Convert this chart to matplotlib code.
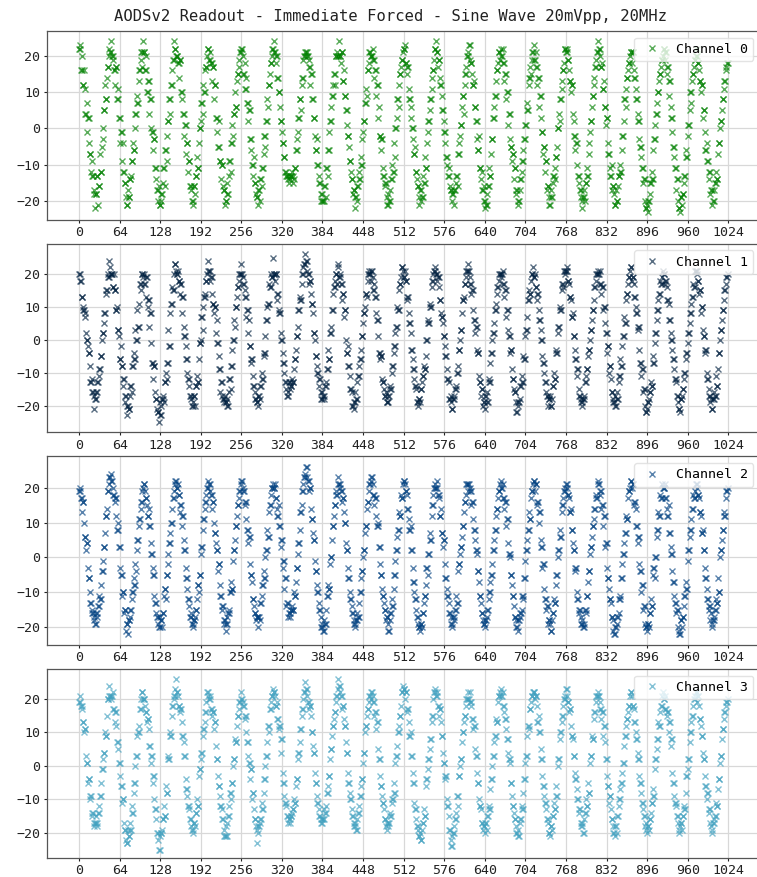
"""AODSv2 readout: 20 MHz sine wave captured on four channels (immediate forced trigger)."""

import matplotlib

matplotlib.use("Agg")
import matplotlib.pyplot as plt
import numpy as np

plt.rcParams["font.family"] = ["DejaVu Sans Mono", "DejaVu Sans"]

TITLE = "AODSv2 Readout - Immediate Forced - Sine Wave 20mVpp, 20MHz"
CHANNEL_LABELS = ["Channel 0", "Channel 1", "Channel 2", "Channel 3"]
CHANNEL_COLORS = ["#008000", "#002040", "#004080", "#40a0bf"]
X_TICKS = [0, 64, 128, 192, 256, 320, 384, 448, 512, 576, 640, 704, 768, 832, 896, 960, 1024]
Y_TICKS = [-20, -10, 0, 10, 20]
Y_LIMITS = [(-25.2, 26.9), (-28.2, 29.2), (-25.1, 28.9), (-27.5, 28.9)]

# readout samples, one line per period of the input sine
channel_0 = [
    22, 22, 23, 16, 16, 20, 12, 12, 16, 11, 4, 4, 7, -1, 3, 3, -4, -7, -7, -12, -9, -13, -13, -17, -18, -22, -18, -18, -13, -13, -21, -16, -16, -7, -12, -12, -5, -3, 0, 5, 5, 12, 8, 8, 14, 17, 17, 20, 22, 21, 21,
    24, 20, 20, 19, 16, 16, 12, 17, 17, 8, 8, 11, 3, 3, -4, -1, -1, -9, -4, -12, -12, -15, -15, -19, -21, -21, -17, -19, -19, -14, -14, -13, -9, -9, -4, -6, -6, 0, 4, 4, 9, 7, 7, 13, 16, 16, 19, 21, 21, 17, 24,
    21, 21, 16, 16, 20, 10, 10, 13, 13, 4, 8, 8, 0, -1, -1, -6, -3, -3, -11, -11, -14, -17, -17, -20, -16, -21, -21, -20, -18, -18, -15, -11, -11, -16, -6, -6, -2, -9, 2, 2, 8, 8, 4, 12, 12, 16, 19, 19, 24, 22, 22, 20,
    20, 20, 18, 18, 14, 19, 19, 10, 10, 8, 4, 4, -2, 1, 1, -7, -4, -4, -12, -9, -9, -16, -16, -17, -20, -20, -21, -16, -16, -18, -13, -13, -8, -11, -11, -4, 0, 0, 2, 7, 7, 4, 12, 10, 10, 16, 17, 17, 20, 22, 22,
    19, 19, 21, 18, 18, 13, 17, 17, 8, 12, 12, 3, 3, -1, -5, -5, 2, -9, -9, -14, -10, -10, -16, -17, -17, -21, -20, -20, -15, -18, -18, -13, -9, -9, -12, -4, -4, 1, -2, 4, 4, 10, 6, 6, 13, 15, 15, 19, 17, 21, 21,
    22, 22, 20, 15, 15, 18, 11, 11, 14, 7, 7, 2, 5, 5, -3, -3, -6, -10, -10, -13, -8, -15, -15, -18, -19, -19, -21, -17, -17, -20, -14, -14, -16, -11, -11, -7, -2, -2, -5, 2, 2, 8, 6, 12, 12, 15, 18, 18, 20, 22, 22,
    24, 21, 21, 18, 20, 20, 14, 14, 10, 10, 6, 2, 2, -1, -4, -4, -8, -8, -12, -12, -13, -13, -14, -13, -15, -13, -14, -13, -13, -12, -15, -13, -14, -11, -11, -6, -6, -3, -1, 3, 3, 8, 8, 5, 12, 14, 14, 19, 20, 20, 21,
    21, 21, 20, 20, 19, 17, 17, 12, 15, 15, 8, 8, 3, 3, -2, -6, -6, -3, -10, -10, -13, -15, -15, -18, -20, -20, -18, -20, -20, -16, -16, -19, -11, -11, -13, -6, -6, -1, 2, 2, 6, 9, 9, 12, 15, 15, 12, 20, 20, 21, 20, 20,
    24, 20, 20, 18, 21, 21, 13, 13, 16, 9, 9, 5, 5, 1, -2, -2, -5, -9, -9, -12, -14, -14, -18, -17, -17, -22, -19, -19, -20, -16, -16, -12, -14, -14, -8, -10, -10, -3, -1, 2, 2, 7, 7, 11, 9, 16, 16, 18, 21, 21, 20,
    20, 20, 22, 19, 19, 14, 16, 16, 9, 12, 12, 3, 6, -2, -2, -6, -3, -3, -11, -13, -13, -16, -15, -15, -19, -21, -21, -18, -20, -20, -17, -14, -14, -10, -12, -12, -4, -8, 0, 0, 3, 8, 8, 6, 12, 15, 15, 17, 19, 19, 21,
    22, 22, 23, 18, 18, 15, 17, 17, 11, 8, 8, 3, 6, 0, 0, -3, -7, -7, -5, -12, -12, -14, -16, -16, -19, -21, -17, -17, -20, -19, -19, -13, -15, -15, -8, -11, -11, -4, -1, 2, 2, 5, 8, 8, 11, 14, 16, 16, 19, 22, 22,
    24, 21, 21, 17, 19, 19, 14, 12, 12, 9, 5, 5, 2, -1, -1, -4, -8, -8, -10, -13, -13, -11, -16, -17, -17, -20, -18, -18, -21, -17, -17, -15, -13, -13, -16, -7, -7, -4, -2, 1, 1, 6, 9, 9, 4, 12, 15, 15, 17, 20, 20,
    21, 23, 23, 19, 18, 18, 15, 12, 12, 13, 6, 6, 2, 2, -3, -6, -6, -2, -11, -11, -14, -12, -17, -17, -16, -20, -20, -22, -21, -21, -18, -16, -16, -11, -13, -13, -7, -3, -3, 3, 3, 6, 9, 9, 13, 16, 16, 18, 21, 21, 19, 22,
    20, 20, 22, 18, 18, 13, 15, 15, 8, 10, 10, 1, 4, 4, -3, -5, -5, -9, -7, -7, -14, -11, -11, -18, -17, -17, -21, -20, -20, -17, -14, -14, -12, -9, -9, -6, -3, -3, 1, 1, 7, 5, 5, 12, 14, 14, 17, 15, 19, 21, 21,
    23, 19, 19, 21, 17, 17, 12, 14, 14, 6, 9, 9, 3, -1, -1, -7, -5, -5, -12, -9, -9, -17, -16, -16, -19, -21, -21, -17, -19, -19, -15, -13, -13, -11, -14, -8, -8, -5, 0, 0, 4, 2, 8, 8, 13, 11, 16, 16, 18, 22, 22,
    21, 21, 22, 19, 19, 16, 13, 13, 10, 12, 12, 4, 2, -2, -2, -6, -4, -4, -10, -13, -13, -15, -17, -17, -19, -20, -22, -19, -19, -17, -20, -15, -15, -11, -13, -13, -4, -7, -1, 2, 2, 6, 9, 9, 12, 14, 17, 17, 19, 21, 21,
    24, 22, 22, 20, 17, 17, 18, 11, 11, 13, 6, 6, 1, 3, 3, -4, -7, -7, -11, -13, -13, -10, -17, -16, -16, -18, -21, -21, -17, -20, -20, -16, -13, -13, -10, -12, -12, -6, -2, -2, 2, 8, 8, 6, 11, 14, 14, 16, 18, 18, 20,
    21, 21, 18, 21, 21, 16, 14, 14, 11, 8, 8, 4, 2, 2, -3, -5, -5, -8, -11, -11, -15, -14, -14, -20, -22, -22, -21, -23, -20, -20, -18, -15, -15, -12, -14, -14, -6, -3, -3, 1, 4, 4, 7, 10, 10, 13, 15, 15, 17, 19, 19, 20,
    22, 22, 19, 21, 21, 15, 17, 17, 9, 13, 13, 6, 3, 3, -1, -5, -5, -8, -11, -11, -17, -14, -14, -20, -22, -22, -23, -19, -19, -21, -18, -18, -15, -13, -13, -6, -8, -8, -2, 1, 1, 5, 10, 10, 7, 13, 15, 15, 17, 19, 19,
    20, 20, 22, 18, 18, 16, 13, 13, 10, 12, 12, 3, 5, 5, -1, -6, -6, -4, -9, -9, -14, -12, -12, -18, -17, -17, -21, -20, -20, -17, -15, -15, -12, -14, -14, -7, -4, -4, 0, 2, 2, 5, 8, 8, 11, 13, 13, 17, 16, 18, 18,
]

channel_1 = [
    20, 20, 18, 18, 13, 13, 10, 9, 9, 8, 7, 2, 0, 0, -2, -4, -4, -8, -13, -13, -12, -16, -16, -17, -21, -18, -18, -16, -16, -13, -13, -11, -9, -9, -5, -5, 0, 2, 2, 5, 8, 8, 14, 15, 15, 20, 19, 19, 24, 22, 20,
    20, 20, 16, 16, 20, 15, 15, 9, 9, 10, 3, 3, 1, -6, -6, -2, -8, -8, -14, -12, -12, -19, -17, -17, -23, -20, -20, -21, -21, -17, -14, -14, -16, -8, -8, -4, -6, -6, 3, 0, 0, 9, 4, 4, 11, 17, 17, 15, 20, 20, 19,
    20, 17, 17, 13, 19, 19, 10, 12, 12, 4, 8, 8, -1, -7, -7, -12, -8, -8, -16, -18, -18, -21, -22, -22, -25, -19, -23, -23, -20, -18, -18, -17, -19, -13, -13, -10, -12, -7, -7, 3, -2, -2, 8, 11, 11, 16, 15, 15, 20, 23, 23, 21,
    20, 20, 21, 18, 18, 14, 17, 17, 8, 13, 13, 4, 1, 1, -2, -6, -6, -10, -12, -12, -14, -17, -17, -18, -20, -20, -19, -17, -17, -20, -14, -14, -11, -13, -13, -6, -1, -1, 0, 7, 7, 3, 10, 13, 13, 14, 18, 18, 20, 21, 24,
    21, 21, 18, 19, 19, 14, 11, 11, 8, 10, 10, 2, 6, -1, -1, -5, -9, -9, -16, -13, -13, -17, -18, -18, -19, -17, -19, -19, -18, -20, -20, -16, -12, -12, -15, -8, -8, -3, 0, 0, 6, 4, 10, 10, 13, 16, 16, 18, 20, 20, 23,
    20, 20, 19, 17, 17, 15, 13, 13, 7, 9, 9, 2, 6, -2, -2, -7, -6, -6, -11, -14, -14, -16, -18, -18, -19, -19, -20, -17, -17, -18, -14, -14, -10, -12, -12, -5, -4, -4, 1, 6, 6, 10, 11, 11, 17, 16, 16, 20, 19, 19, 25,
    20, 20, 18, 20, 20, 12, 14, 14, 9, 8, 8, 2, 0, 0, -4, -7, -7, -10, -13, -13, -15, -17, -17, -16, -13, -13, -15, -14, -14, -12, -13, -13, -9, -6, -6, -3, 1, 1, 4, 9, 9, 13, 12, 12, 17, 20, 20, 22, 23, 23, 26,
    24, 24, 21, 20, 20, 17, 18, 18, 14, 11, 11, 8, 2, 2, 0, -5, -5, -8, -10, -10, -14, -12, -12, -16, -18, -18, -16, -17, -17, -18, -14, -14, -13, -9, -9, -3, -6, -6, 2, 2, 4, 9, 9, 14, 16, 16, 18, 20, 20, 17, 22, 23,
    19, 19, 20, 17, 17, 12, 14, 14, 7, 9, 9, 0, -4, -4, -2, -8, -8, -11, -15, -15, -16, -20, -20, -21, -19, -19, -16, -18, -18, -13, -11, -11, -8, -6, -6, -3, 1, 1, 5, 8, 8, 10, 14, 14, 13, 18, 20, 20, 21, 20, 18,
    21, 21, 19, 15, 15, 17, 13, 13, 8, 6, 6, 1, -4, -4, -6, -5, -5, -12, -13, -13, -15, -17, -17, -16, -19, -19, -19, -17, -17, -14, -15, -15, -10, -8, -8, -4, -2, -2, 2, 4, 4, 10, 9, 9, 15, 17, 17, 19, 22, 22, 21,
    19, 19, 21, 18, 18, 12, 13, 13, 8, 5, 5, 2, -3, -3, -6, -9, -9, -12, -14, -14, -15, -19, -19, -20, -18, -18, -19, -15, -15, -13, -11, -11, -8, -9, -9, -5, 0, 0, 6, 5, 5, 11, 10, 10, 16, 18, 18, 20, 21, 21, 22,
    20, 20, 18, 19, 19, 16, 12, 12, 8, 7, 7, 5, 1, 1, -2, -5, -5, -9, -12, -12, -13, -18, -18, -17, -19, -21, -21, -18, -18, -17, -15, -15, -14, -10, -10, -8, -3, -3, 0, 3, 3, 8, 12, 12, 13, 17, 17, 19, 21, 21, 23,
    21, 21, 19, 17, 17, 14, 15, 15, 9, 6, 6, 2, 4, 4, -3, -4, -4, -11, -13, -13, -17, -15, -15, -20, -19, -19, -21, -17, -17, -16, -19, -19, -12, -13, -13, -7, -4, -4, 0, 2, 2, 5, 9, 9, 11, 14, 16, 16, 18, 20, 20, 19,
    20, 20, 21, 17, 17, 13, 15, 15, 7, 9, 9, 3, 1, 1, -4, -3, -3, -9, -12, -12, -15, -16, -16, -19, -22, -22, -20, -19, -19, -18, -14, -14, -11, -13, -13, -5, -6, -6, 1, 3, 3, 7, 12, 12, 15, 14, 14, 18, 20, 20, 22,
    19, 19, 20, 16, 16, 12, 14, 14, 9, 6, 6, 3, 0, 0, -5, -7, -7, -10, -13, -13, -16, -17, -17, -20, -18, -18, -17, -20, -20, -18, -14, -14, -10, -12, -12, -3, -4, -4, 2, 4, 4, 10, 9, 9, 15, 17, 17, 16, 21, 21, 20,
    21, 21, 22, 18, 18, 17, 13, 13, 12, 7, 7, 8, 1, 1, -3, -6, -6, -11, -9, -9, -15, -17, -17, -18, -19, -19, -20, -18, -18, -17, -13, -13, -11, -9, -9, -5, -3, -3, 0, 3, 3, 6, 9, 9, 12, 16, 16, 18, 20, 20, 21,
    20, 20, 21, 17, 17, 14, 16, 16, 9, 10, 10, 5, 2, 2, -4, -2, -2, -10, -8, -8, -12, -16, -16, -18, -19, -19, -17, -20, -20, -16, -18, -18, -13, -11, -11, -6, -8, -8, -2, 1, 1, 7, 5, 5, 12, 14, 14, 17, 19, 19, 21,
    22, 22, 18, 19, 19, 17, 13, 13, 10, 8, 8, 3, 4, 4, -3, -7, -7, -11, -9, -9, -16, -15, -15, -20, -22, -22, -21, -19, -19, -18, -16, -16, -13, -14, -14, -5, -7, -7, -1, 2, 2, 6, 9, 9, 12, 14, 14, 18, 17, 17, 19, 21,
    20, 20, 17, 18, 18, 16, 12, 12, 11, 6, 6, 2, 0, 0, -3, -6, -6, -9, -12, -12, -13, -17, -17, -19, -21, -21, -22, -18, -18, -17, -15, -15, -12, -10, -10, -6, -4, -4, -1, 2, 2, 5, 8, 8, 11, 13, 13, 17, 16, 16, 21,
    21, 21, 20, 18, 18, 14, 15, 15, 8, 10, 10, 3, 1, 1, -4, -3, -3, -10, -12, -12, -15, -17, -17, -19, -18, -21, -21, -18, -18, -16, -17, -17, -11, -14, -14, -9, -4, -4, 0, 3, 3, 6, 9, 9, 12, 15, 15, 17, 19, 19, 20,
]

channel_2 = [
    19, 19, 20, 17, 17, 13, 16, 16, 10, 6, 6, 2, 4, 4, -3, -6, -6, -10, -13, -13, -15, -16, -16, -18, -17, -19, -19, -16, -16, -17, -14, -14, -11, -12, -12, -8, -4, -4, -1, 3, 3, 7, 12, 12, 14, 19, 19, 21, 23, 23, 24,
    22, 22, 20, 18, 18, 16, 17, 17, 12, 8, 8, 10, 3, 3, -3, -5, -5, -11, -10, -10, -16, -15, -15, -21, -19, -19, -22, -18, -18, -17, -15, -15, -12, -10, -10, -6, -8, -8, -2, -4, 2, 5, 5, 9, 11, 11, 14, 16, 16, 19, 20,
    21, 21, 19, 17, 17, 15, 12, 12, 14, 9, 9, 4, 1, 1, -3, -5, -5, -11, -13, -13, -16, -17, -17, -19, -20, -20, -17, -18, -18, -20, -16, -16, -11, -9, -9, -12, -5, -5, -2, 1, 4, 4, 7, 10, 10, 14, 17, 17, 19, 21, 22, 22,
    20, 20, 21, 18, 18, 13, 15, 15, 9, 12, 12, 5, 2, 2, -3, -6, -6, -9, -12, -12, -14, -17, -17, -16, -19, -19, -20, -18, -18, -17, -15, -15, -12, -8, -8, -10, -5, -5, 1, 3, 3, 8, 11, 11, 14, 16, 16, 18, 20, 20, 22,
    21, 21, 19, 18, 18, 14, 16, 16, 10, 7, 7, 4, 2, 2, -4, -2, -2, -8, -11, -11, -15, -14, -14, -19, -18, -18, -21, -19, -19, -17, -16, -16, -15, -10, -10, -7, -9, -9, -1, 2, 2, 5, 9, 9, 12, 15, 15, 17, 19, 19, 21,
    22, 22, 20, 19, 19, 15, 16, 16, 11, 8, 8, 4, 6, 6, -2, -5, -5, -7, -12, -12, -14, -16, -16, -18, -17, -17, -20, -17, -17, -18, -13, -13, -11, -8, -8, -4, -6, -6, 0, 2, 2, 8, 6, 6, 13, 15, 15, 18, 20, 20, 21,
    20, 20, 21, 17, 17, 14, 12, 12, 15, 9, 9, 3, 5, 5, -3, -1, -1, -9, -6, -6, -14, -13, -13, -17, -16, -16, -17, -15, -15, -14, -15, -15, -10, -11, -11, -7, -3, -3, 1, 4, 4, 8, 13, 13, 15, 19, 19, 21, 23, 23, 24,
    26, 26, 23, 22, 22, 19, 20, 20, 14, 11, 11, 7, 5, 5, -1, -4, -4, -8, -10, -10, -13, -15, -15, -17, -20, -20, -19, -21, -21, -18, -19, -19, -15, -11, -11, -8, -9, -9, -2, 0, 0, 5, 9, 9, 12, 15, 15, 19, 18, 18, 21, 23,
    21, 21, 20, 19, 19, 16, 17, 17, 13, 10, 10, 4, 2, 2, -3, -6, -6, -10, -12, -12, -14, -16, -16, -18, -19, -19, -20, -18, -18, -16, -17, -17, -13, -10, -10, -6, -4, -4, 0, 2, 2, 7, 9, 9, 14, 16, 16, 19, 21, 21, 22,
    23, 23, 21, 18, 18, 15, 17, 17, 12, 9, 9, 10, 3, 3, -2, -5, -5, -9, -11, -11, -13, -15, -15, -18, -17, -17, -19, -21, -21, -18, -16, -16, -12, -14, -14, -9, -5, -5, -1, 2, 2, 6, 8, 8, 13, 12, 12, 18, 17, 17, 21,
    22, 22, 21, 19, 19, 18, 14, 14, 11, 8, 8, 9, 2, 2, -3, -7, -7, -10, -12, -12, -15, -17, -17, -19, -20, -20, -21, -19, -19, -20, -16, -16, -13, -11, -11, -8, -3, -3, -5, 1, 1, 7, 5, 5, 12, 15, 15, 18, 20, 20, 21,
    20, 20, 22, 18, 18, 17, 12, 12, 14, 7, 7, 3, 5, 5, -2, -6, -6, -9, -11, -11, -13, -16, -16, -17, -19, -19, -20, -17, -17, -18, -15, -15, -11, -13, -13, -4, -2, -2, 1, 3, 3, 6, 9, 9, 13, 16, 16, 18, 21, 21, 19,
    21, 21, 20, 19, 19, 15, 16, 16, 11, 8, 8, 5, 2, 2, 1, -4, -4, -7, -11, -11, -13, -16, -16, -18, -19, -19, -20, -18, -18, -17, -15, -15, -12, -10, -10, -7, -5, -5, -2, 2, 2, 5, 8, 8, 12, 14, 14, 17, 19, 19, 21, 22,
    20, 20, 21, 17, 17, 14, 16, 16, 9, 11, 11, 4, 1, 1, 0, -5, -5, -8, -11, -11, -14, -17, -17, -18, -20, -20, -21, -18, -18, -17, -16, -16, -15, -11, -11, -12, -6, -6, -1, 2, 2, 5, 8, 8, 13, 11, 11, 17, 19, 19, 21,
    22, 22, 19, 21, 21, 15, 16, 16, 10, 13, 13, 5, 3, 3, -3, -2, -2, -9, -12, -12, -15, -14, -14, -19, -18, -18, -19, -21, -21, -18, -16, -16, -12, -13, -13, -8, -5, -5, 0, 2, 2, 8, 6, 6, 13, 15, 15, 17, 19, 19, 20,
    21, 21, 20, 18, 18, 17, 13, 13, 14, 8, 8, 4, 2, 2, -4, -3, -3, -10, -12, -12, -16, -15, -15, -17, -19, -19, -18, -20, -20, -19, -15, -15, -16, -11, -11, -7, -4, -4, 1, 3, 3, 6, 9, 9, 11, 14, 14, 18, 17, 17, 22,
    21, 21, 18, 19, 19, 14, 15, 15, 9, 12, 12, 3, 4, 4, -3, -6, -6, -9, -12, -12, -13, -17, -17, -18, -21, -22, -22, -20, -20, -19, -17, -17, -16, -12, -12, -11, -6, -6, -2, 1, 1, 4, 7, 7, 12, 11, 11, 17, 19, 19, 20,
    22, 22, 20, 21, 21, 15, 16, 16, 14, 9, 9, 4, 6, 6, -2, -4, -4, -10, -8, -8, -15, -14, -14, -19, -20, -20, -21, -19, -19, -20, -16, -16, -12, -14, -14, -5, -3, -3, -6, 0, 0, 6, 8, 8, 13, 12, 12, 18, 17, 17, 21, 20,
    20, 20, 21, 17, 17, 14, 12, 12, 15, 7, 7, 3, 1, 1, -4, -7, -7, -11, -13, -13, -16, -15, -15, -20, -21, -22, -22, -18, -18, -20, -17, -17, -14, -11, -11, -7, -9, -9, -1, 2, 2, 6, 8, 8, 11, 14, 14, 18, 17, 17, 19,
    21, 21, 20, 18, 18, 17, 13, 13, 12, 7, 7, 8, 2, 2, -3, -6, -6, -9, -12, -12, -15, -14, -14, -18, -16, -19, -20, -18, -18, -17, -15, -15, -12, -13, -13, -6, -10, -10, 0, 2, 2, 5, 8, 8, 13, 12, 12, 17, 19, 19, 20,
]

channel_3 = [
    19, 19, 21, 18, 18, 17, 13, 13, 10, 11, 11, 3, 1, 1, -5, -4, -4, -10, -9, -9, -15, -14, -14, -18, -17, -17, -15, -17, -17, -18, -14, -14, -12, -9, -9, -5, -1, -1, 2, 4, 4, 10, 9, 9, 15, 20, 20, 24, 21, 21, 20,
    21, 21, 22, 17, 17, 13, 16, 16, 12, 7, 7, 5, 1, 1, -3, -6, -6, -11, -10, -10, -17, -19, -19, -22, -23, -23, -19, -21, -21, -17, -19, -19, -12, -14, -14, -8, -5, -5, 0, 3, 3, 9, 10, 10, 12, 17, 17, 20, 22, 22, 20,
    20, 20, 18, 16, 16, 13, 14, 14, 11, 6, 6, 1, 3, 3, -5, -3, -3, -10, -13, -13, -16, -20, -20, -22, -25, -25, -21, -20, -20, -19, -16, -16, -12, -15, -15, -6, -8, -8, 3, 2, 2, 10, 9, 9, 15, 18, 18, 20, 21, 21, 23, 26,
    22, 22, 21, 18, 18, 16, 17, 17, 13, 9, 9, 7, 3, 3, -4, -7, -7, -9, -12, -12, -13, -16, -16, -18, -19, -19, -20, -17, -17, -18, -14, -14, -10, -12, -12, -3, -1, -1, 2, 4, 4, 9, 11, 11, 13, 16, 16, 19, 22, 22, 21,
    20, 20, 21, 17, 17, 15, 16, 16, 11, 13, 13, 6, 2, 2, -3, -6, -6, -9, -12, -12, -13, -16, -16, -19, -21, -21, -18, -21, -21, -17, -15, -15, -12, -8, -8, -10, -5, -5, 0, 2, 2, 8, 7, 7, 12, 15, 15, 17, 19, 19, 22,
    20, 20, 19, 18, 18, 14, 15, 15, 10, 7, 7, 3, 1, 1, -4, -1, -1, -10, -8, -8, -13, -16, -16, -18, -19, -23, -20, -18, -18, -17, -16, -16, -11, -13, -13, -8, -4, -4, 0, 3, 3, 7, 12, 12, 10, 17, 17, 19, 21, 21, 23,
    22, 22, 21, 18, 18, 19, 14, 14, 11, 12, 12, 4, 8, 8, -2, -5, -5, -9, -11, -11, -12, -15, -15, -17, -16, -16, -17, -15, -15, -14, -13, -13, -10, -11, -11, -6, -4, -4, 2, 4, 4, 7, 11, 11, 15, 17, 17, 20, 22, 22, 25,
    23, 23, 21, 19, 19, 17, 18, 18, 15, 10, 10, 6, 4, 4, -2, -5, -5, -9, -11, -11, -13, -15, -15, -17, -16, -16, -17, -16, -16, -13, -14, -14, -12, -8, -8, -6, -3, -3, 2, 5, 5, 9, 12, 12, 14, 16, 16, 19, 21, 21, 23, 26,
    24, 24, 22, 21, 21, 17, 18, 18, 14, 12, 12, 7, 4, 4, -2, -5, -5, -8, -10, -10, -13, -15, -15, -17, -18, -18, -17, -19, -19, -16, -14, -14, -12, -9, -9, -6, -4, -4, 1, 4, 4, 10, 12, 12, 15, 17, 17, 19, 21, 21, 20,
    22, 22, 21, 19, 19, 15, 16, 16, 11, 13, 13, 5, 2, 2, -3, -6, -6, -9, -11, -11, -13, -16, -16, -18, -17, -19, -18, -17, -17, -14, -15, -15, -11, -10, -10, -5, -8, -8, 1, 3, 3, 6, 10, 10, 12, 15, 15, 18, 22, 22, 24,
    23, 23, 20, 22, 22, 16, 17, 17, 13, 9, 9, 10, 3, 3, -2, -5, -5, -11, -13, -13, -16, -18, -18, -19, -21, -21, -20, -22, -22, -19, -17, -17, -13, -15, -15, -6, -4, -4, -1, 2, 2, 5, 8, 8, 13, 15, 15, 20, 22, 22, 23,
    21, 21, 22, 18, 18, 15, 17, 17, 13, 9, 9, 4, 1, 1, -4, -3, -3, -10, -12, -12, -15, -19, -19, -22, -24, -24, -21, -20, -20, -18, -16, -16, -14, -9, -9, -12, -3, -3, 0, 2, 2, 7, 10, 10, 13, 15, 15, 18, 20, 20, 22,
    20, 20, 22, 19, 19, 18, 14, 14, 11, 12, 12, 5, 3, 3, -2, -5, -5, -10, -12, -12, -13, -17, -17, -19, -18, -18, -20, -17, -17, -19, -15, -15, -12, -13, -13, -7, -4, -4, 0, 3, 3, 7, 9, 9, 14, 13, 13, 19, 21, 21, 22, 23,
    21, 21, 22, 18, 18, 16, 14, 14, 11, 8, 8, 4, 2, 2, 1, -5, -5, -9, -12, -12, -14, -16, -16, -18, -20, -20, -19, -21, -21, -17, -16, -16, -12, -13, -13, -8, -4, -4, 1, 3, 3, 9, 12, 12, 11, 17, 17, 19, 21, 21, 22,
    22, 22, 20, 21, 21, 18, 13, 13, 15, 10, 10, 5, 2, 2, -3, -6, -6, -9, -11, -11, -13, -16, -16, -17, -20, -20, -21, -18, -18, -19, -15, -15, -11, -13, -13, -6, -9, -9, 0, 2, 2, 8, 10, 10, 13, 15, 15, 18, 20, 20, 21,
    23, 23, 21, 19, 19, 16, 17, 17, 12, 9, 9, 8, 3, 3, -2, -4, -4, -7, -10, -10, -14, -13, -13, -18, -17, -17, -18, -20, -20, -16, -14, -14, -10, -12, -12, -5, -8, -8, 1, 3, 3, 9, 8, 8, 14, 16, 16, 19, 21, 21, 22,
    21, 21, 19, 17, 17, 14, 16, 16, 9, 12, 12, 7, 2, 2, -3, -6, -6, -11, -9, -9, -13, -16, -16, -18, -20, -20, -21, -18, -18, -20, -15, -15, -12, -10, -10, -7, -5, -5, -2, 1, 1, 6, 9, 9, 12, 14, 14, 16, 18, 18, 21,
    22, 22, 21, 18, 18, 17, 13, 13, 10, 8, 8, 4, 2, 2, -3, -5, -5, -8, -11, -11, -13, -15, -15, -18, -17, -19, -20, -18, -18, -19, -16, -16, -14, -11, -11, -7, -9, -9, -1, 2, 2, 5, 8, 8, 13, 12, 12, 16, 18, 18, 21, 22,
    20, 20, 21, 17, 17, 15, 16, 16, 10, 13, 13, 6, 8, 8, -2, -5, -5, -9, -11, -11, -12, -15, -15, -17, -19, -20, -18, -17, -17, -19, -15, -15, -12, -13, -13, -8, -3, -3, -1, 2, 2, 7, 10, 10, 13, 15, 15, 18, 20, 20, 21,
    22, 22, 19, 21, 21, 18, 14, 14, 12, 9, 9, 4, 2, 2, -3, -6, -6, -10, -8, -8, -14, -13, -13, -17, -18, -20, -19, -17, -17, -16, -15, -15, -11, -12, -12, -7, -4, -4, 1, 3, 3, 8, 11, 11, 14, 16, 16, 18, 19, 19, 20,
]

CHANNELS = [channel_0, channel_1, channel_2, channel_3]


def main() -> None:
    fig, axes = plt.subplots(4, 1, figsize=(7.57, 8.77), dpi=100)
    # the right spine sits just past the canvas edge, as in the original export
    fig.subplots_adjust(left=0.0616, right=1.004, top=0.9647, bottom=0.0217, hspace=0.127)

    for ax, samples, label, color, ylim in zip(
        axes, CHANNELS, CHANNEL_LABELS, CHANNEL_COLORS, Y_LIMITS
    ):
        samples = np.asarray(samples, dtype=float)
        x = np.arange(len(samples))
        ax.plot(
            x,
            samples,
            linestyle="none",
            marker="x",
            markersize=4.2,
            markeredgewidth=1.0,
            color=color,
            alpha=0.65,
            label=label,
        )
        ax.set_xticks(X_TICKS)
        ax.set_yticks(Y_TICKS)
        ax.set_xlim(-51.15, 1074.15)
        ax.set_ylim(*ylim)
        ax.grid(True, color="#d8d8d8", linewidth=0.9)
        ax.set_axisbelow(True)
        ax.tick_params(labelsize=9.5, length=2, pad=2.5, colors="#222222")
        for spine in ax.spines.values():
            spine.set_color("#555555")
            spine.set_linewidth(0.9)
        ax.legend(loc="upper right", fontsize=9.5, edgecolor="#dddddd", framealpha=0.8)

    fig.suptitle(TITLE, x=0.516, y=0.981, va="center", fontsize=11.2, color="#222222")
    fig.savefig("out.png", dpi=100)


if __name__ == "__main__":
    main()
